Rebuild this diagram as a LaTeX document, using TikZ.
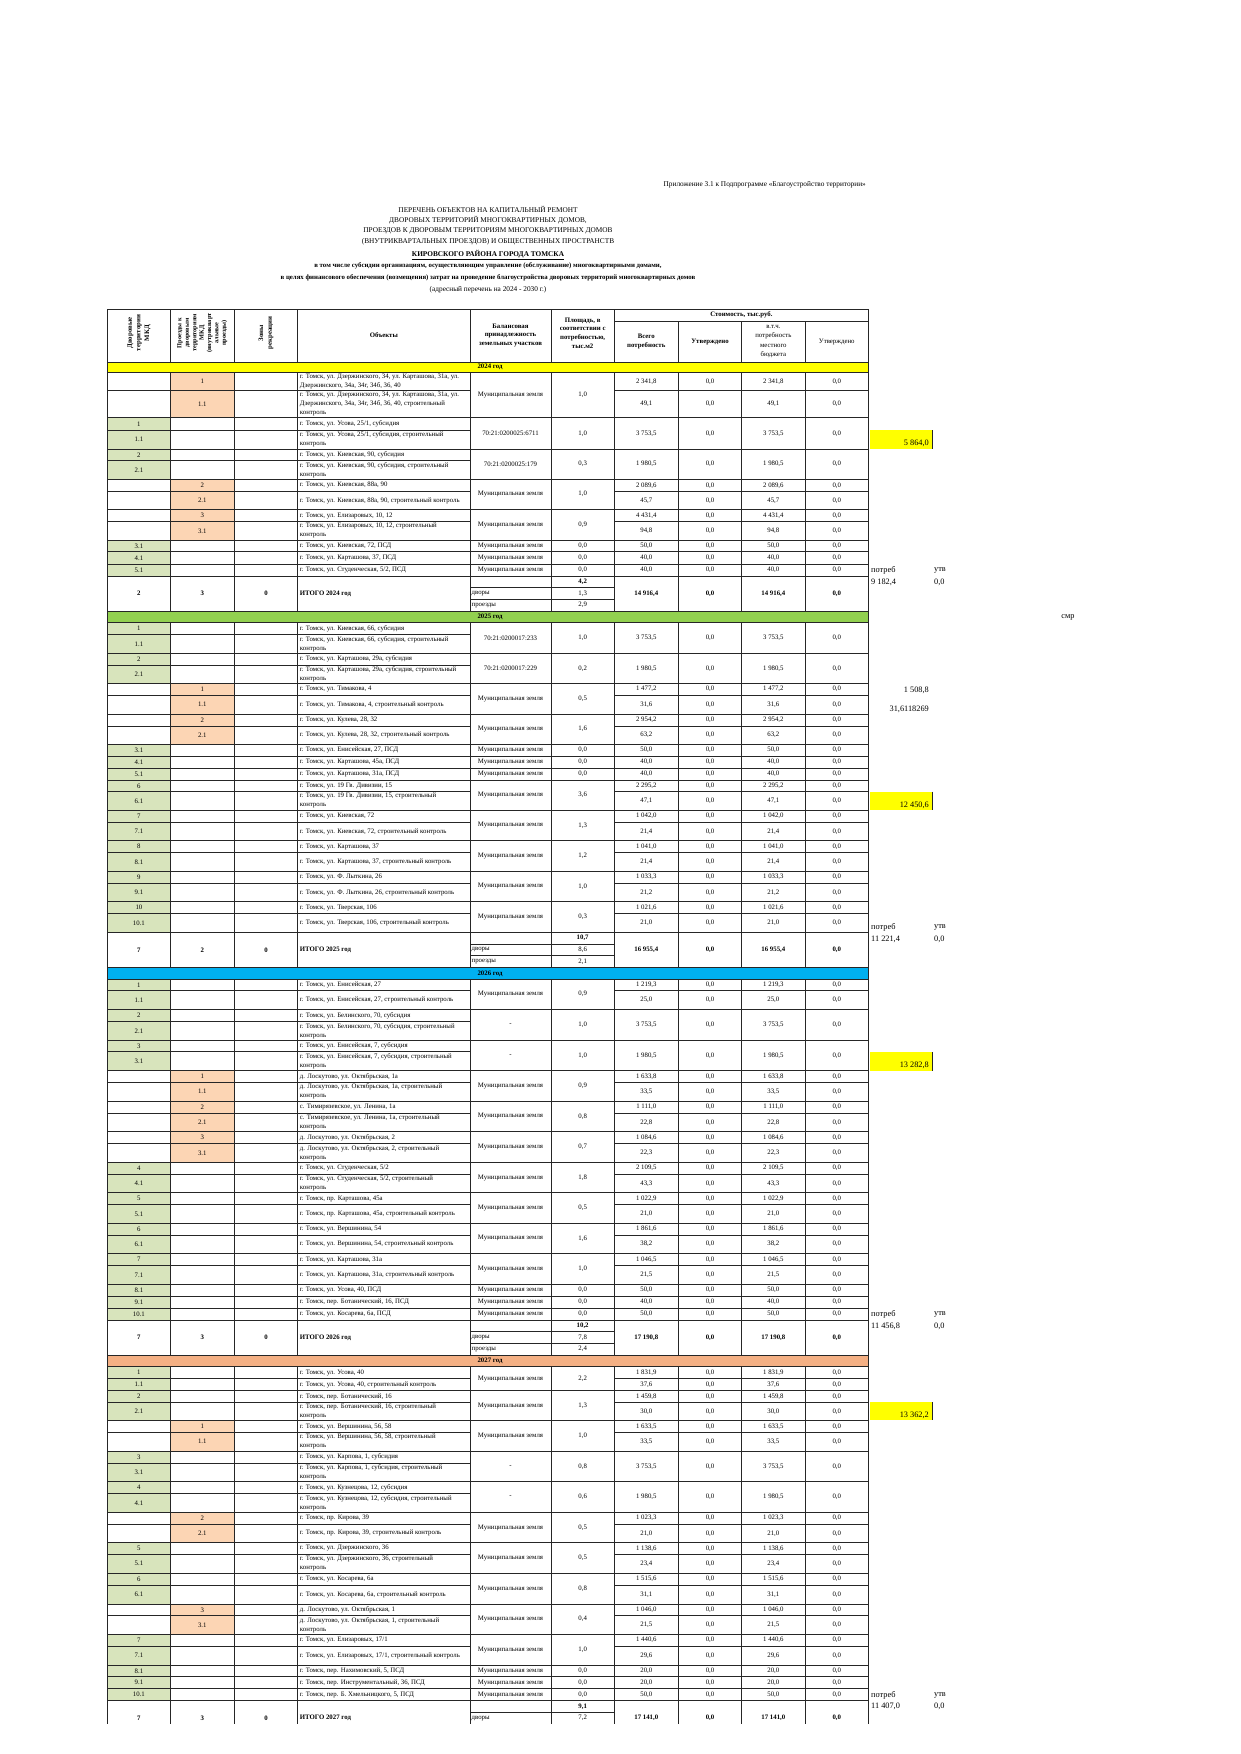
\documentclass[tikz,border=0pt]{standalone}
\usepackage{fontspec}
\setmainfont{Liberation Serif}
\usetikzlibrary{backgrounds}

\definecolor{yrA}{HTML}{FFFF00}
\definecolor{yrB}{HTML}{92D050}
\definecolor{yrC}{HTML}{00B0F0}
\definecolor{yrD}{HTML}{F4B084}
\definecolor{dvor}{HTML}{D8E4BC}
\definecolor{proezd}{HTML}{FCD5B4}

% column edges
\newcommand\colA{107.5}
\newcommand\colB{170.3}
\newcommand\colC{234.3}
\newcommand\colD{297.7}
\newcommand\colE{470}
\newcommand\colF{551}
\newcommand\colG{614.3}
\newcommand\colH{678.3}
\newcommand\colI{741.7}
\newcommand\colJ{805}
\newcommand\colK{868.5}
\newcommand\mz{Муниципальная земля}

\tikzset{
  tline/.style={draw=black!85, line width=0.6pt},
  cell/.style={inner sep=0pt, font=\fontsize{6.8}{9}\selectfont, align=center},
  bcell/.style={cell, font=\fontsize{6.8}{9}\selectfont\bfseries},
  addr/.style={cell, anchor=west, align=left},
  hdr/.style={cell, font=\fontsize{6.8}{8.6}\selectfont\bfseries},
  note/.style={inner sep=0pt, font=\fontsize{8.3}{10}\selectfont},
  ttl/.style={inner sep=0pt, font=\fontsize{7.3}{9}\selectfont},
}

% rows of the left part: name, top, bottom, number, address
\newcommand\drow[5]{%
  \begin{pgfonlayer}{background}\fill[dvor] (\colA,#2) rectangle (\colB,#3);\end{pgfonlayer}
  \node[cell] (#1-n) at ({(\colA+\colB)/2},{(#2+#3)/2}) {#4};
  \node[addr] (#1-t) at ({\colD+2},{(#2+#3)/2}) {#5};
  \draw[tline] (\colA,#3) -- (\colE,#3);}
\newcommand\prow[5]{%
  \begin{pgfonlayer}{background}\fill[proezd] (\colB,#2) rectangle (\colC,#3);\end{pgfonlayer}
  \node[cell] (#1-n) at ({(\colB+\colC)/2},{(#2+#3)/2}) {#4};
  \node[addr] (#1-t) at ({\colD+2},{(#2+#3)/2}) {#5};
  \draw[tline] (\colA,#3) -- (\colE,#3);}
% right part, two rows: name, top, mid, bottom, land, area, upper sum, lower sum
\newcommand\rpair[8]{%
  \node[cell] (#1-b) at ({(\colE+\colF)/2},{(#2+#4)/2}) {#5};
  \node[cell] (#1-s) at ({(\colF+\colG)/2},{(#2+#4)/2}) {#6};
  \node[cell] (#1-p1) at ({(\colG+\colH)/2},{(#2+#3)/2}) {#7};
  \node[cell] (#1-u1) at ({(\colH+\colI)/2},{(#2+#3)/2}) {0,0};
  \node[cell] (#1-m1) at ({(\colI+\colJ)/2},{(#2+#3)/2}) {#7};
  \node[cell] (#1-k1) at ({(\colJ+\colK)/2},{(#2+#3)/2}) {0,0};
  \node[cell] (#1-p2) at ({(\colG+\colH)/2},{(#3+#4)/2}) {#8};
  \node[cell] (#1-u2) at ({(\colH+\colI)/2},{(#3+#4)/2}) {0,0};
  \node[cell] (#1-m2) at ({(\colI+\colJ)/2},{(#3+#4)/2}) {#8};
  \node[cell] (#1-k2) at ({(\colJ+\colK)/2},{(#3+#4)/2}) {0,0};
  \draw[tline] (\colG,#3) -- (\colK,#3);
  \draw[tline] (\colE,#4) -- (\colK,#4);}
% right part, one merged row: name, top, bottom, land, area, sum
\newcommand\rfull[6]{%
  \node[cell] (#1-b) at ({(\colE+\colF)/2},{(#2+#3)/2}) {#4};
  \node[cell] (#1-s) at ({(\colF+\colG)/2},{(#2+#3)/2}) {#5};
  \node[cell] (#1-p) at ({(\colG+\colH)/2},{(#2+#3)/2}) {#6};
  \node[cell] (#1-u) at ({(\colH+\colI)/2},{(#2+#3)/2}) {0,0};
  \node[cell] (#1-m) at ({(\colI+\colJ)/2},{(#2+#3)/2}) {#6};
  \node[cell] (#1-k) at ({(\colJ+\colK)/2},{(#2+#3)/2}) {0,0};
  \draw[tline] (\colE,#3) -- (\colK,#3);}
% totals: name, top, yards, drives, zones, label
\newcommand\itogoL[6]{%
  \node[bcell] (#1-a) at ({(\colA+\colB)/2},{#2+17.5}) {#3};
  \node[bcell] (#1-b) at ({(\colB+\colC)/2},{#2+17.5}) {#4};
  \node[bcell] (#1-c) at ({(\colC+\colD)/2},{#2+17.5}) {#5};
  \node[bcell, anchor=west] (#1-t) at ({\colD+2},{#2+17.5}) {#6};
  \draw[tline] (\colA,#2+35) -- (\colE,#2+35);}
% totals: name, top, area, yards area, drives label, drives area, sum
\newcommand\itogoR[7]{%
  \draw[tline] (\colE,#2+11.7) -- (\colG,#2+11.7) (\colE,#2+23.3) -- (\colG,#2+23.3);
  \node[bcell] (#1-s) at ({(\colF+\colG)/2},{#2+5.9}) {#3};
  \node[cell, anchor=west] (#1-dl) at ({\colE+1.5},{#2+17.5}) {дворы};
  \node[cell] (#1-d) at ({(\colF+\colG)/2},{#2+17.5}) {#4};
  \node[cell, anchor=west] (#1-pl) at ({\colE+1.5},{#2+29.2}) {#5};
  \node[cell] (#1-p) at ({(\colF+\colG)/2},{#2+29.2}) {#6};
  \node[bcell] (#1-v1) at ({(\colG+\colH)/2},{#2+17.5}) {#7};
  \node[bcell] (#1-v2) at ({(\colH+\colI)/2},{#2+17.5}) {0,0};
  \node[bcell] (#1-v3) at ({(\colI+\colJ)/2},{#2+17.5}) {#7};
  \node[bcell] (#1-v4) at ({(\colJ+\colK)/2},{#2+17.5}) {0,0};
  \draw[tline] (\colE,#2+35) -- (\colK,#2+35);}
% year band: name, top, bottom, colour, label
\newcommand\yearbar[5]{%
  \draw[tline, fill=#4] (\colA,#2) rectangle (\colK,#3);
  \node[bcell] (#1) at ({(\colA+\colK)/2+2},{(#2+#3)/2}) {#5};}

\begin{document}
\begin{tikzpicture}[x=1pt,y=-1pt]
\useasboundingbox (0,0) rectangle (1240,1754);

%%% title
\node[ttl, anchor=east] (pril) at (866,185) {Приложение 3.1 к Подпрограмме «Благоустройство территории»};
\node[ttl] (t1) at (488,209) {ПЕРЕЧЕНЬ ОБЪЕКТОВ НА КАПИТАЛЬНЫЙ РЕМОНТ};
\node[ttl] (t2) at (488,220) {ДВОРОВЫХ ТЕРРИТОРИЙ МНОГОКВАРТИРНЫХ ДОМОВ,};
\node[ttl] (t3) at (488,231) {ПРОЕЗДОВ К ДВОРОВЫМ ТЕРРИТОРИЯМ МНОГОКВАРТИРНЫХ ДОМОВ};
\node[ttl] (t4) at (488,242) {(ВНУТРИКВАРТАЛЬНЫХ ПРОЕЗДОВ) И ОБЩЕСТВЕННЫХ ПРОСТРАНСТВ};
\node[ttl, font=\fontsize{7.3}{9}\selectfont\bfseries] (t5) at (488,255) {\underline{КИРОВСКОГО РАЙОНА ГОРОДА ТОМСКА}};
\node[ttl, font=\fontsize{6.8}{9}\selectfont\bfseries] (t6) at (488,266) {в том числе субсидии  организациям, осуществляющим управление (обслуживание)  многоквартирными домами,};
\node[ttl, font=\fontsize{6.8}{9}\selectfont\bfseries] (t7) at (488,277.5) {в целях финансового обеспечения (возмещения)  затрат на проведение благоустройства дворовых территорий многоквартирных домов};
\node[ttl] (t8) at (488,289.5) {(адресный перечень на 2024 - 2030 г.)};

\begin{scope}
\clip (0,0) rectangle (1240,1723.3);
%%% grid
\foreach \x in {\colA,\colB,\colC,\colD,\colE,\colF,\colG,\colK}
  \draw[tline] (\x,309) -- (\x,1740);
\foreach \x in {\colH,\colI,\colJ}
  \draw[tline] (\x,321) -- (\x,1740);
\draw[tline] (\colA,309) -- (\colK,309);
\draw[tline] (\colG,321) -- (\colK,321);

%%% header
\node[hdr, rotate=90] (hDvor) at ({(\colA+\colB)/2},333) {Дворовые\\территории\\МКД};
\node[hdr, rotate=90, font=\fontsize{6.3}{7.4}\selectfont\bfseries] (hProezd) at ({(\colB+\colC)/2},333) {Проезды к\\дворовым\\территориям\\МКД\\(внутрикварт\\альные\\проезды)};
\node[hdr, rotate=90] (hZona) at ({(\colC+\colD)/2},333) {Зоны\\рекреации};
\node[hdr] (hObj) at ({(\colD+\colE)/2},335.5) {Объекты};
\node[hdr] (hBal) at ({(\colE+\colF)/2},335.5) {Балансовая\\принадлежность\\земельных участков};
\node[hdr] (hPl) at ({(\colF+\colG)/2},333) {Площадь, в\\соответствии с\\потребностью,\\тыс.м2};
\node[hdr] (hCost) at ({(\colG+\colK)/2},315) {Стоимость, тыс.руб.};
\node[hdr] (hVse) at ({(\colG+\colH)/2},341.5) {Всего\\потребность};
\node[hdr] (hUtv) at ({(\colH+\colI)/2},341.5) {Утверждено};
\node[cell, font=\fontsize{6.8}{9.4}\selectfont] (hMest) at ({(\colI+\colJ)/2},341.5) {в.т.ч.\\потребность\\местного\\бюджета};
\node[cell] (hUtvM) at ({(\colJ+\colK)/2},341.5) {Утверждено};

%%% 2024
\yearbar{y24}{362}{372}{yrA}{2024 год}
\prow{a01}{372}{390.7}{1}{г. Томск, ул. Дзержинского, 34, ул. Карташова, 31а, ул.\\Дзержинского, 34а, 34г, 34б, 36, 40}
\prow{a02}{390.7}{417.7}{1.1}{г. Томск, ул. Дзержинского, 34, ул. Карташова, 31а, ул.\\Дзержинского, 34а, 34г, 34б, 36, 40, строительный\\контроль}
\drow{a03}{417.7}{430}{1}{г. Томск, ул. Усова, 25/1, субсидия}
\drow{a04}{430}{449}{1.1}{г. Томск, ул. Усова, 25/1, субсидия, строительный\\контроль}
\drow{a05}{449}{460.7}{2}{г. Томск, ул. Киевская, 90, субсидия}
\drow{a06}{460.7}{479}{2.1}{г. Томск, ул. Киевская, 90, субсидия, строительный\\контроль}
\prow{a07}{479}{491.7}{2}{г. Томск, ул. Киевская, 88а, 90}
\prow{a08}{491.7}{509.3}{2.1}{г. Томск, ул. Киевская, 88а, 90, строительный контроль}
\prow{a09}{509.3}{521.7}{3}{г. Томск, ул. Елизаровых, 10, 12}
\prow{a10}{521.7}{540}{3.1}{г. Томск, ул. Елизаровых, 10, 12, строительный\\контроль}
\drow{a11}{540}{551.7}{3.1}{г. Томск, ул. Киевская, 72, ПСД}
\drow{a12}{551.7}{564}{4.1}{г. Томск, ул. Карташова, 37, ПСД}
\drow{a13}{564}{576}{5.1}{г. Томск, ул. Студенческая, 5/2, ПСД}
\itogoL{a14}{576}{2}{3}{0}{ИТОГО 2024 год}
\rpair{b01}{372}{390.7}{417.7}{\mz}{1,0}{2 341,8}{49,1}
\rfull{b02}{417.7}{449}{70:21:0200025:6711}{1,0}{3 753,5}
\rfull{b03}{449}{479}{70:21:0200025:179}{0,3}{1 980,5}
\rpair{b04}{479}{491.7}{509.3}{\mz}{1,0}{2 089,6}{45,7}
\rpair{b05}{509.3}{521.7}{540}{\mz}{0,9}{4 431,4}{94,8}
\rfull{b06}{540}{551.7}{\mz}{0,0}{50,0}
\rfull{b07}{551.7}{564}{\mz}{0,0}{40,0}
\rfull{b08}{564}{576}{\mz}{0,0}{40,0}
\itogoR{b09}{576}{4,2}{1,3}{проезды}{2,9}{14 916,4}

%%% 2025
\yearbar{y25}{611}{622.3}{yrB}{2025 год}
\drow{c01}{622.3}{634.3}{1}{г. Томск, ул. Киевская, 66, субсидия}
\drow{c02}{634.3}{653.3}{1.1}{г. Томск, ул. Киевская, 66, субсидия, строительный\\контроль}
\drow{c03}{653.3}{665}{2}{г. Томск, ул. Карташова, 29а, субсидия}
\drow{c04}{665}{683.3}{2.1}{г. Томск, ул. Карташова, 29а, субсидия, строительный\\контроль}
\prow{c05}{683.3}{695}{1}{г. Томск, ул. Тимакова, 4}
\prow{c06}{695}{714}{1.1}{г. Томск, ул. Тимакова, 4, строительный контроль}
\prow{c07}{714}{726}{2}{г. Томск, ул. Кулева, 28, 32}
\prow{c08}{726}{744.3}{2.1}{г. Томск, ул. Кулева, 28, 32, строительный контроль}
\drow{c09}{744.3}{756}{3.1}{г. Томск, ул. Енисейская, 27, ПСД}
\drow{c10}{756}{768}{4.1}{г. Томск, ул. Карташова, 45а, ПСД}
\drow{c11}{768}{780}{5.1}{г. Томск, ул. Карташова, 31а, ПСД}
\drow{c12}{780}{791.7}{6}{г. Томск, ул. 19 Гв. Дивизии, 15}
\drow{c13}{791.7}{810}{6.1}{г. Томск, ул. 19 Гв. Дивизии, 15, строительный\\контроль}
\drow{c14}{810}{822.3}{7}{г. Томск, ул. Киевская, 72}
\drow{c15}{822.3}{840.7}{7.1}{г. Томск, ул. Киевская, 72, строительный контроль}
\drow{c16}{840.7}{852.7}{8}{г. Томск, ул. Карташова, 37}
\drow{c17}{852.7}{871}{8.1}{г. Томск, ул. Карташова, 37, строительный контроль}
\drow{c18}{871}{883.3}{9}{г. Томск, ул. Ф. Лыткина, 26}
\drow{c19}{883.3}{901.7}{9.1}{г. Томск, ул. Ф. Лыткина, 26, строительный контроль}
\drow{c20}{901.7}{913.3}{10}{г. Томск, ул. Тверская, 106}
\drow{c21}{913.3}{932.3}{10.1}{г. Томск, ул. Тверская, 106, строительный контроль}
\itogoL{c22}{932.3}{7}{2}{0}{ИТОГО 2025 год}
\rfull{e01}{622.3}{653.3}{70:21:0200017:233}{1,0}{3 753,5}
\rfull{e02}{653.3}{683.3}{70:21:0200017:229}{0,2}{1 980,5}
\rpair{e03}{683.3}{695}{714}{\mz}{0,5}{1 477,2}{31,6}
\rpair{e04}{714}{726}{744.3}{\mz}{1,6}{2 954,2}{63,2}
\rfull{e05}{744.3}{756}{\mz}{0,0}{50,0}
\rfull{e06}{756}{768}{\mz}{0,0}{40,0}
\rfull{e07}{768}{780}{\mz}{0,0}{40,0}
\rpair{e08}{780}{791.7}{810}{\mz}{3,6}{2 295,2}{47,1}
\rpair{e09}{810}{822.3}{840.7}{\mz}{1,3}{1 042,0}{21,4}
\rpair{e10}{840.7}{852.7}{871}{\mz}{1,2}{1 041,0}{21,4}
\rpair{e11}{871}{883.3}{901.7}{\mz}{1,0}{1 033,3}{21,2}
\rpair{e12}{901.7}{913.3}{932.3}{\mz}{0,3}{1 021,6}{21,0}
\itogoR{e13}{932.3}{10,7}{8,6}{проезды}{2,1}{16 955,4}

%%% 2026
\yearbar{y26}{967.7}{979}{yrC}{2026 год}
\drow{f01}{979}{990.7}{1}{г. Томск, ул. Енисейская, 27}
\drow{f02}{990.7}{1009.3}{1.1}{г. Томск, ул. Енисейская, 27, строительный контроль}
\drow{f03}{1009.3}{1021.7}{2}{г. Томск, ул. Белинского, 70, субсидия}
\drow{f04}{1021.7}{1040}{2.1}{г. Томск, ул. Белинского, 70, субсидия, строительный\\контроль}
\drow{f05}{1040}{1051.7}{3}{г. Томск, ул. Енисейская, 7, субсидия}
\drow{f06}{1051.7}{1070.7}{3.1}{г. Томск, ул. Енисейская, 7, субсидия, строительный\\контроль}
\prow{f07}{1070.7}{1082.3}{1}{д. Лоскутово, ул. Октябрьская, 1а}
\prow{f08}{1082.3}{1101}{1.1}{д. Лоскутово, ул. Октябрьская, 1а, строительный\\контроль}
\prow{f09}{1101}{1113.3}{2}{с. Тимирязевское, ул. Ленина, 1а}
\prow{f10}{1113.3}{1131.7}{2.1}{с. Тимирязевское, ул. Ленина, 1а, строительный\\контроль}
\prow{f11}{1131.7}{1143.3}{3}{д. Лоскутово, ул. Октябрьская, 2}
\prow{f12}{1143.3}{1162.3}{3.1}{д. Лоскутово, ул. Октябрьская, 2, строительный\\контроль}
\drow{f13}{1162.3}{1174}{4}{г. Томск, ул. Студенческая, 5/2}
\drow{f14}{1174}{1192.7}{4.1}{г. Томск, ул. Студенческая, 5/2, строительный\\контроль}
\drow{f15}{1192.7}{1204.3}{5}{г. Томск, пр. Карташова, 45а}
\drow{f16}{1204.3}{1223.3}{5.1}{г. Томск, пр. Карташова, 45а, строительный контроль}
\drow{f17}{1223.3}{1235}{6}{г. Томск, ул. Вершинина, 54}
\drow{f18}{1235}{1253.3}{6.1}{г. Томск, ул. Вершинина, 54, строительный контроль}
\drow{f19}{1253.3}{1265.7}{7}{г. Томск, ул. Карташова, 31а}
\drow{f20}{1265.7}{1284.3}{7.1}{г. Томск, ул. Карташова, 31а, строительный контроль}
\drow{f21}{1284.3}{1296}{8.1}{г. Томск, ул. Усова, 40, ПСД}
\drow{f22}{1296}{1308.3}{9.1}{г. Томск, пер. Ботанический, 16, ПСД}
\drow{f23}{1308.3}{1320}{10.1}{г. Томск, ул. Косарева, 6а, ПСД}
\itogoL{f24}{1320}{7}{3}{0}{ИТОГО 2026 год}
\rpair{g01}{979}{990.7}{1009.3}{\mz}{0,9}{1 219,3}{25,0}
\rfull{g02}{1009.3}{1040}{-}{1,0}{3 753,5}
\rfull{g03}{1040}{1070.7}{-}{1,0}{1 980,5}
\rpair{g04}{1070.7}{1082.3}{1101}{\mz}{0,9}{1 633,8}{33,5}
\rpair{g05}{1101}{1113.3}{1131.7}{\mz}{0,8}{1 111,0}{22,8}
\rpair{g06}{1131.7}{1143.3}{1162.3}{\mz}{0,7}{1 084,6}{22,3}
\rpair{g07}{1162.3}{1174}{1192.7}{\mz}{1,8}{2 109,5}{43,3}
\rpair{g08}{1192.7}{1204.3}{1223.3}{\mz}{0,5}{1 022,9}{21,0}
\rpair{g09}{1223.3}{1235}{1253.3}{\mz}{1,6}{1 861,6}{38,2}
\rpair{g10}{1253.3}{1265.7}{1284.3}{\mz}{1,0}{1 046,5}{21,5}
\rfull{g11}{1284.3}{1296}{\mz}{0,0}{50,0}
\rfull{g12}{1296}{1308.3}{\mz}{0,0}{40,0}
\rfull{g13}{1308.3}{1320}{\mz}{0,0}{50,0}
\itogoR{g14}{1320}{10,2}{7,8}{проезды}{2,4}{17 190,8}

%%% 2027
\yearbar{y27}{1355}{1366.7}{yrD}{2027 год}
\drow{h01}{1366.7}{1378.3}{1}{г. Томск, ул. Усова, 40}
\drow{h02}{1378.3}{1390.7}{1.1}{г. Томск, ул. Усова, 40, строительный контроль}
\drow{h03}{1390.7}{1402.3}{2}{г. Томск, пер. Ботанический, 16}
\drow{h04}{1402.3}{1420.7}{2.1}{г. Томск, пер. Ботанический, 16, строительный\\контроль}
\prow{h05}{1420.7}{1432.3}{1}{г. Томск, ул. Вершинина, 56, 58}
\prow{h06}{1432.3}{1451}{1.1}{г. Томск, ул. Вершинина, 56, 58, строительный\\контроль}
\drow{h07}{1451}{1463.3}{3}{г. Томск, ул. Карпова, 1, субсидия}
\drow{h08}{1463.3}{1481.7}{3.1}{г. Томск, ул. Карпова, 1, субсидия, строительный\\контроль}
\drow{h09}{1481.7}{1493.3}{4}{г. Томск, ул. Кузнецова, 12, субсидия}
\drow{h10}{1493.3}{1512.3}{4.1}{г. Томск, ул. Кузнецова, 12, субсидия, строительный\\контроль}
\prow{h11}{1512.3}{1524}{2}{г. Томск, пр. Кирова, 39}
\prow{h12}{1524}{1542.7}{2.1}{г. Томск, пр. Кирова, 39, строительный контроль}
\drow{h13}{1542.7}{1554}{5}{г. Томск, ул. Дзержинского, 36}
\drow{h14}{1554}{1573.3}{5.1}{г. Томск, ул. Дзержинского, 36, строительный\\контроль}
\drow{h15}{1573.3}{1585}{6}{г. Томск, ул. Косарева, 6а}
\drow{h16}{1585}{1604}{6.1}{г. Томск, ул. Косарева, 6а, строительный контроль}
\prow{h17}{1604}{1615.7}{3}{д. Лоскутово, ул. Октябрьская, 1}
\prow{h18}{1615.7}{1634.3}{3.1}{д. Лоскутово, ул. Октябрьская, 1, строительный\\контроль}
\drow{h19}{1634.3}{1646}{7}{г. Томск, ул. Елизаровых, 17/1}
\drow{h20}{1646}{1665}{7.1}{г. Томск, ул. Елизаровых, 17/1, строительный контроль}
\drow{h21}{1665}{1676.7}{8.1}{г. Томск, пер. Нахимовский, 5, ПСД}
\drow{h22}{1676.7}{1688.3}{9.1}{г. Томск, пер. Инструментальный, 36, ПСД}
\drow{h23}{1688.3}{1700.7}{10.1}{г. Томск, пер. Б. Хмельницкого, 5, ПСД}
\itogoL{h24}{1700.7}{7}{3}{0}{ИТОГО 2027 год}
\rpair{k01}{1366.7}{1378.3}{1390.7}{\mz}{2,2}{1 831,9}{37,6}
\rpair{k02}{1390.7}{1402.3}{1420.7}{\mz}{1,3}{1 459,8}{30,0}
\rpair{k03}{1420.7}{1432.3}{1451}{\mz}{1,0}{1 633,5}{33,5}
\rfull{k04}{1451}{1481.7}{-}{0,8}{3 753,5}
\rfull{k05}{1481.7}{1512.3}{-}{0,6}{1 980,5}
\rpair{k06}{1512.3}{1524}{1542.7}{\mz}{0,5}{1 023,3}{21,0}
\rpair{k07}{1542.7}{1554}{1573.3}{\mz}{0,5}{1 138,6}{23,4}
\rpair{k08}{1573.3}{1585}{1604}{\mz}{0,8}{1 515,6}{31,1}
\rpair{k09}{1604}{1615.7}{1634.3}{\mz}{0,4}{1 046,0}{21,5}
\rpair{k10}{1634.3}{1646}{1665}{\mz}{1,0}{1 440,6}{29,6}
\rfull{k11}{1665}{1676.7}{\mz}{0,0}{20,0}
\rfull{k12}{1676.7}{1688.3}{\mz}{0,0}{20,0}
\rfull{k13}{1688.3}{1700.7}{\mz}{0,0}{50,0}
\itogoR{k14}{1700.7}{9,1}{7,2}{}{}{17 141,0}
\end{scope}

%%% notes beside the table
\fill[yrA] (869.5,430) rectangle (932,449);
\draw[tline] (932,430) -- (932,449);
\node[note, anchor=east] (sum24) at (929,443.5) {5 864,0};
\node[note, anchor=west] (pt24) at (871,570) {потреб};
\node[note, anchor=west] (ut24) at (934,570) {утв};
\node[note, anchor=west] (pv24) at (871,582) {9 182,4};
\node[note, anchor=west] (uv24) at (934,582) {0,0};
\node[note] (smr) at (1068,617) {смр};
\node[note, anchor=east] (n1508) at (929,690) {1 508,8};
\node[note, anchor=east] (n316) at (929,709) {31,6118269};
\fill[yrA] (869.5,791.7) rectangle (932,810);
\draw[tline] (932,791.7) -- (932,810);
\node[note, anchor=east] (sum25) at (929,805) {12 450,6};
\node[note, anchor=west] (pt25) at (871,927.3) {потреб};
\node[note, anchor=west] (ut25) at (934,927.3) {утв};
\node[note, anchor=west] (pv25) at (871,939.3) {11 221,4};
\node[note, anchor=west] (uv25) at (934,939.3) {0,0};
\fill[yrA] (869.5,1052) rectangle (932,1070.7);
\draw[tline] (932,1052) -- (932,1070.7);
\node[note, anchor=east] (sum26) at (929,1065) {13 282,8};
\node[note, anchor=west] (pt26) at (871,1314) {потреб};
\node[note, anchor=west] (ut26) at (934,1314) {утв};
\node[note, anchor=west] (pv26) at (871,1326) {11 456,8};
\node[note, anchor=west] (uv26) at (934,1326) {0,0};
\fill[yrA] (869.5,1402.3) rectangle (932,1420);
\draw[tline] (932,1402.3) -- (932,1420);
\node[note, anchor=east] (sum27) at (929,1415) {13 362,2};
\node[note, anchor=west] (pt27) at (871,1695) {потреб};
\node[note, anchor=west] (ut27) at (934,1695) {утв};
\node[note, anchor=west] (pv27) at (871,1706) {11 407,0};
\node[note, anchor=west] (uv27) at (934,1706) {0,0};
\end{tikzpicture}
\end{document}
